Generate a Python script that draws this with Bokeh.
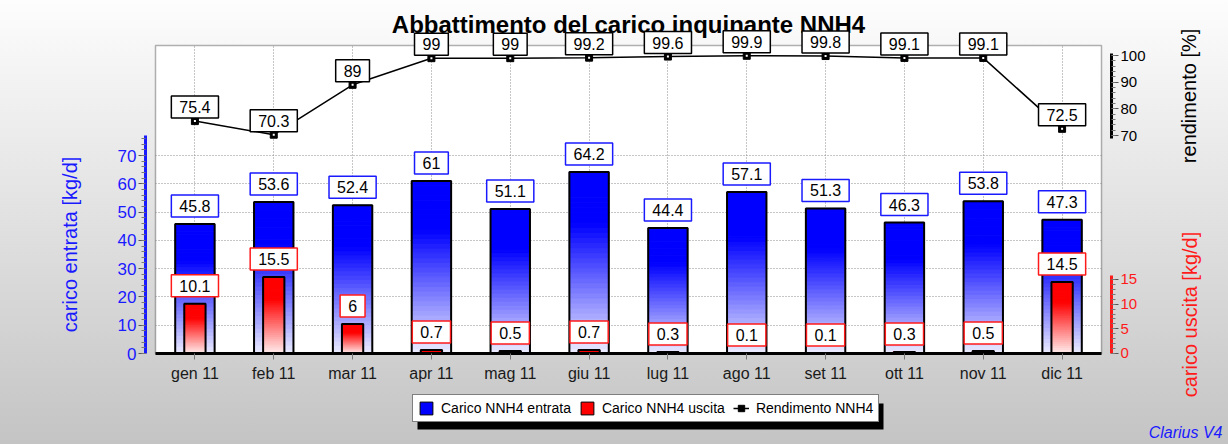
import math
from bokeh.plotting import figure
from bokeh.models import (ColumnDataSource, FactorRange, Range1d, LinearAxis,
                          FixedTicker, Label, Legend, LegendItem, BoxAnnotation)
from bokeh.core.properties import value
from bokeh.embed import file_html
from bokeh.resources import INLINE

months = ["gen 11", "feb 11", "mar 11", "apr 11", "mag 11", "giu 11",
          "lug 11", "ago 11", "set 11", "ott 11", "nov 11", "dic 11"]
carico_entrata = [45.8, 53.6, 52.4, 61, 51.1, 64.2, 44.4, 57.1, 51.3, 46.3, 53.8, 47.3]
carico_uscita = [10.1, 15.5, 6, 0.7, 0.5, 0.7, 0.3, 0.1, 0.1, 0.3, 0.5, 14.5]
rendimento = [75.4, 70.3, 89, 99, 99, 99.2, 99.6, 99.9, 99.8, 99.1, 99.1, 72.5]

entrata_ticks = [0, 10, 20, 30, 40, 50, 60, 70]
rendimento_ticks = [70, 80, 90, 100]
uscita_ticks = [0, 5, 10, 15]

FONT = "Liberation Sans"

# plotting area (white box) spans the 12 categories and 0..108.9 on the left scale;
# the frame itself is larger so that the outer axes and labels are drawn inside it
N = len(months)
BOX_TOP = 108.9

p = figure(width=1228, height=444,
           x_range=FactorRange(*months, range_padding=1.611, range_padding_units="absolute"),
           y_range=Range1d(-32.17, 117.73),
           title="Abbattimento del carico inquinante NNH4",
           output_backend="svg", toolbar_location=None,
           min_border_left=28, min_border_right=0,
           min_border_top=20, min_border_bottom=0)
p.extra_y_ranges = {"ren": Range1d(-45.875, 113.125), "out": Range1d(-18.446, 67.50)}
p.border_fill_color = None
p.background_fill_color = None
p.outline_line_color = None
p.styles = {"background": "linear-gradient(to bottom, #fdfdfd 0%, #c4c4c4 100%)"}

p.title.text_font = FONT
p.title.text_font_size = "24px"
p.title.text_font_style = "bold"
p.title.align = "center"
p.title.text_color = "black"
try:
    p.title.standoff = -34
except Exception:
    p.title.standoff = 0

# white plotting box with black border
p.add_layout(BoxAnnotation(left=0, right=N, bottom=0, top=BOX_TOP,
                           fill_color="white", fill_alpha=1,
                           line_color="black", line_width=1.5, level="image"))

# grids
p.xgrid.grid_line_color = "#8c8c8c"
p.xgrid.grid_line_dash = "1 2"
p.xgrid.cross_bounds = (0, BOX_TOP)
p.ygrid.grid_line_color = "#8c8c8c"
p.ygrid.grid_line_dash = "1 2"
p.ygrid.cross_bounds = (0, N)


def shade(base, light, t):
    f = min(1.0, t / 0.72)
    c = [int(round(light[i] + (base[i] - light[i]) * f)) for i in range(3)]
    return "#%02x%02x%02x" % tuple(c)


NSEG = 36


def gradient_source(vals, base, light):
    xs, bot, top, col = [], [], [], []
    for m, v in zip(months, vals):
        for k in range(NSEG):
            xs.append(m)
            bot.append(v * k / NSEG)
            top.append(v * (k + 1) / NSEG)
            col.append(shade(base, light, (k + 0.5) / NSEG))
    return ColumnDataSource(dict(x=xs, bottom=bot, top=top, color=col))


# entrata bars
p.vbar(x="x", bottom="bottom", top="top", width=0.5, fill_color="color",
       line_color="color", line_width=1,
       source=gradient_source(carico_entrata, (0, 0, 255), (238, 238, 255)))
p.vbar(x=months, top=carico_entrata, width=0.5, fill_color=None,
       line_color="black", line_width=2)
leg_in = p.vbar(x=months, top=carico_entrata, width=0.5, fill_color="blue",
                line_color="black", line_width=1, visible=False)

# uscita bars
p.vbar(x="x", bottom="bottom", top="top", width=0.27, fill_color="color",
       line_color="color", line_width=1, y_range_name="out",
       source=gradient_source(carico_uscita, (255, 0, 0), (255, 240, 240)))
p.vbar(x=months, top=carico_uscita, width=0.27, fill_color=None,
       line_color="black", line_width=2, y_range_name="out")
leg_out = p.vbar(x=months, top=carico_uscita, width=0.27, fill_color="red",
                 line_color="black", line_width=1, y_range_name="out", visible=False)

# rendimento line
ren_line = p.line(months, rendimento, y_range_name="ren", line_color="black", line_width=1.5)
ren_pts = p.scatter(months, rendimento, y_range_name="ren", marker="square", size=7,
                    fill_color="black", line_color="black")
p.scatter(months, rendimento, y_range_name="ren", marker="square", size=2,
          fill_color="white", line_color=None)

# axes (placed at fixed locations just outside the white box)
AX_GAP = 0.127
ax_l = p.yaxis[0]
tk_l = FixedTicker(ticks=entrata_ticks, minor_ticks=list(range(0, 78, 2)))
ax_l.ticker = tk_l
p.ygrid.ticker = tk_l
ax_l.bounds = (0, 77.1)
ax_l.fixed_location = -AX_GAP
ax_l.axis_label = "carico entrata [kg/d]"
ax_l.axis_label_text_color = "#1a1aff"
ax_l.axis_label_standoff = 34
ax_l.axis_label_text_font_size = "20px"
ax_l.axis_label_text_font_style = "normal"
ax_l.axis_label_text_font = FONT
ax_l.axis_line_color = "#1a1aff"
ax_l.major_label_text_color = "#1a1aff"
ax_l.major_label_text_font_size = "17px"

REN_BOUNDS = (68.9, 100.8)
OUT_BOUNDS = (0, 15.8)

ax_r = LinearAxis(y_range_name="ren", bounds=REN_BOUNDS,
                  ticker=FixedTicker(ticks=rendimento_ticks, minor_ticks=list(range(70, 101, 2))),
                  fixed_location=N + AX_GAP)
ax_r.axis_line_color = "black"
ax_r.major_label_text_color = "black"

ax_u = LinearAxis(y_range_name="out", bounds=OUT_BOUNDS,
                  ticker=FixedTicker(ticks=uscita_ticks, minor_ticks=list(range(0, 16))),
                  fixed_location=N + AX_GAP)
ax_u.axis_line_color = "#ff1a1a"
ax_u.major_label_text_color = "#ff1a1a"

for ax in (ax_r, ax_u):
    ax.major_label_text_font_size = "15px"

for ax in (ax_l, ax_r, ax_u):
    ax.axis_line_width = 3
    ax.major_label_text_font = FONT
    ax.major_label_standoff = 2
    ax.major_tick_out = 7
    ax.major_tick_in = 0
    ax.minor_tick_out = 4
    ax.minor_tick_in = 0
    ax.major_tick_line_color = "#555555"
    ax.minor_tick_line_color = "#777777"

p.add_layout(ax_r, "right")
p.add_layout(ax_u, "right")

# titles of the two right-hand axes (rotated, reading bottom to top, centred on each axis)
for txt, rng, bnds, col, xoff in (("rendimento [%]", "ren", REN_BOUNDS, "black", 77),
                                  ("carico uscita [kg/d]", "out", OUT_BOUNDS, "#ff1a1a", 78)):
    p.add_layout(Label(x=N + AX_GAP, y=(bnds[0] + bnds[1]) / 2, y_range_name=rng,
                       x_offset=xoff, text=txt, angle=math.pi / 2,
                       text_align="center", text_baseline="middle",
                       text_font=FONT, text_font_size="20px", text_color=col))

xa = p.xaxis[0]
xa.fixed_location = 0
xa.bounds = (0, N)
xa.major_label_text_font_size = "16px"
xa.major_label_text_font = FONT
xa.major_label_text_color = "#1a1a1a"
xa.axis_line_width = 3
xa.axis_line_color = "black"
xa.major_tick_out = 6
xa.major_tick_in = 0
xa.major_tick_line_color = "#777777"
xa.major_label_standoff = 5


def add_value_labels(vals, rng, border, yoff, level="annotation"):
    # x in the categorical range's synthetic coordinates (category centre)
    for i, v in enumerate(vals):
        p.add_layout(Label(x=i + 0.5, y=v, y_range_name=rng, text=f"{v:g}",
                           text_align="center", text_baseline="bottom",
                           y_offset=yoff, text_font=FONT, text_font_size="16px",
                           text_color="black", background_fill_color="white",
                           border_line_color=border, border_line_width=1.5,
                           padding=(8, 5), level=level))


add_value_labels(carico_entrata, "default", "#1a1aff", 7)
add_value_labels(carico_uscita, "out", "#ff1a1a", 7)
add_value_labels(rendimento, "ren", "black", 3, level="overlay")

# legend drop shadow (screen units, relative to the frame's lower-left corner)
p.add_layout(BoxAnnotation(left=389, right=855, bottom=15, top=41,
                           left_units="screen", right_units="screen",
                           bottom_units="screen", top_units="screen",
                           fill_color="black", fill_alpha=1, line_color=None))

legend = Legend(items=[LegendItem(label="Carico NNH4 entrata", renderers=[leg_in]),
                       LegendItem(label="Carico NNH4 uscita", renderers=[leg_out]),
                       LegendItem(label="Rendimento NNH4", renderers=[ren_line, ren_pts])],
                orientation="horizontal", location=(384, 22))
legend.inactive_fill_alpha = 0
legend.label_text_font = FONT
legend.label_text_font_size = "14px"
legend.label_text_color = "black"
legend.glyph_width = 16
legend.glyph_height = 16
legend.label_height = 16
legend.label_standoff = 7
legend.padding = 5
legend.spacing = 8
legend.margin = 0
legend.border_line_color = "black"
legend.border_line_width = 1
legend.background_fill_color = "white"
legend.background_fill_alpha = 1
p.add_layout(legend, "center")

p.add_layout(Label(x=1194, y=4, x_units="screen", y_units="screen", text="Clarius V4",
                   text_align="right", text_font=FONT, text_font_style="italic",
                   text_color="#1a1aff", text_font_size="16px"))

open("out.html", "w").write(file_html(p, INLINE))
